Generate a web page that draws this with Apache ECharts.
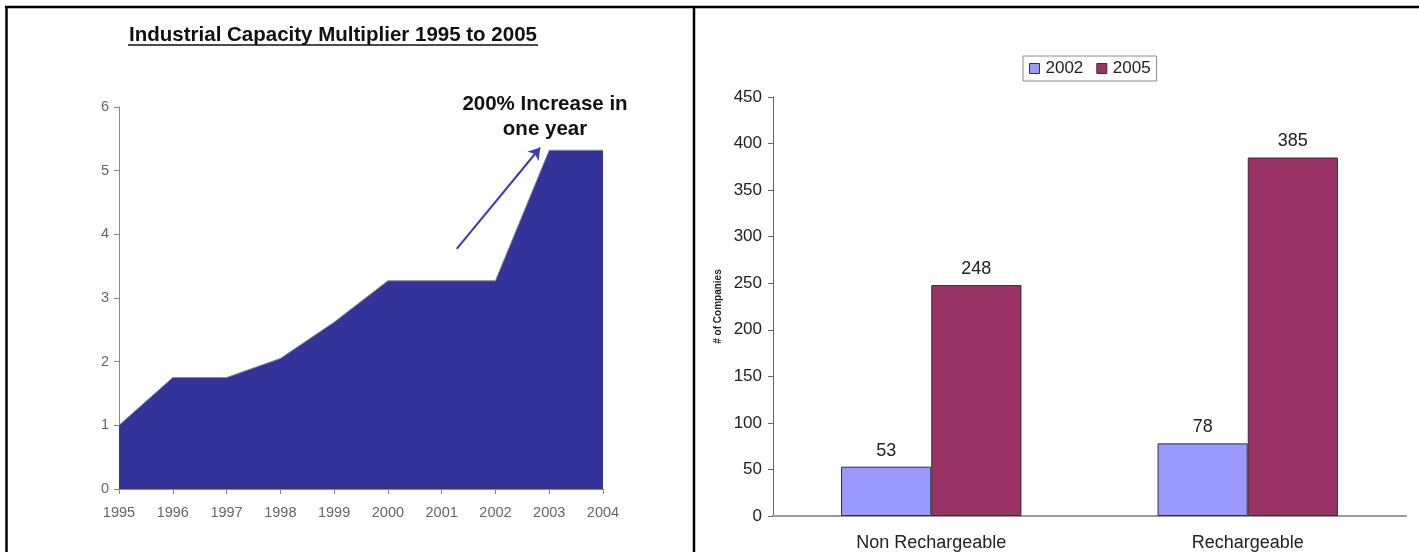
<!DOCTYPE html>
<html>
<head>
<meta charset="utf-8">
<script src="https://cdn.jsdelivr.net/npm/echarts@6/dist/echarts.min.js"></script>
<style>
  html, body { margin: 0; padding: 0; background: #fff; }
  #main { width: 1419px; height: 552px; }
</style>
</head>
<body>
<div id="main"></div>
<script>
// left chart data
var years = ['1995', '1996', '1997', '1998', '1999', '2000', '2001', '2002', '2003', '2004'];
var multiplier = [1.0, 1.75, 1.75, 2.05, 2.62, 3.27, 3.27, 3.27, 5.32, 5.32];
// arrow annotation, in (year index, multiplier) units
var arrowFrom = [6.28, 3.77];
var arrowTo = [7.83, 5.36];

// right chart data
var batteryTypes = ['Non Rechargeable', 'Rechargeable'];
var companies2002 = [53, 78];
var companies2005 = [248, 385];

var chart = echarts.init(document.getElementById('main'));
var font = 'Arial, "Liberation Sans", sans-serif';

chart.setOption({
  animation: false,
  backgroundColor: '#fff',
  grid: [
    { left: 119, right: 816, top: 107, bottom: 63 },
    { left: 773, right: 13, top: 97, bottom: 36 }
  ],
  legend: {
    data: ['2002', '2005'],
    left: 1023,
    top: 56,
    itemWidth: 10,
    itemHeight: 10,
    itemGap: 13,
    icon: 'rect',
    padding: [4, 6, 4, 6],
    borderColor: '#888',
    borderWidth: 1,
    textStyle: { fontFamily: font, fontSize: 17, color: '#222', padding: [0, 0, 0, 1] },
    itemStyle: { borderColor: '#333', borderWidth: 1 }
  },
  xAxis: [{
    gridIndex: 0,
    type: 'category',
    data: years,
    boundaryGap: false,
    axisLine: { lineStyle: { color: '#888' } },
    axisTick: { length: 5, lineStyle: { color: '#888' } },
    axisLabel: { fontFamily: font, fontSize: 14.5, color: '#666', margin: 16 }
  }, {
    gridIndex: 1,
    type: 'category',
    data: batteryTypes,
    axisLine: { lineStyle: { color: '#999', width: 2 } },
    axisTick: { length: 6, lineStyle: { color: '#444' } },
    axisLabel: { fontFamily: font, fontSize: 18, color: '#222', margin: 18 }
  }, {
    // hidden linear axis for placing the arrow between years
    gridIndex: 0,
    type: 'value',
    min: 0, max: years.length - 1,
    show: false
  }],
  yAxis: [{
    gridIndex: 0,
    type: 'value',
    min: 0, max: 6, interval: 1,
    axisLine: { show: true, lineStyle: { color: '#888' } },
    axisTick: { show: true, length: 5, lineStyle: { color: '#888' } },
    splitLine: { show: false },
    axisLabel: { fontFamily: font, fontSize: 14.5, color: '#666', margin: 10 }
  }, {
    gridIndex: 1,
    type: 'value',
    min: 0, max: 450, interval: 50,
    name: '# of Companies',
    nameLocation: 'middle',
    nameRotate: 90,
    nameGap: 50,
    nameTextStyle: { fontFamily: font, fontSize: 10, fontWeight: 'bold', color: '#222' },
    axisLine: { show: true, lineStyle: { color: '#666' } },
    axisTick: { show: true, length: 5, lineStyle: { color: '#666' } },
    splitLine: { show: false },
    axisLabel: { fontFamily: font, fontSize: 17, color: '#222', margin: 11 }
  }],
  series: [{
    name: 'Multiplier',
    type: 'line',
    xAxisIndex: 0,
    yAxisIndex: 0,
    data: multiplier,
    symbol: 'none',
    lineStyle: { color: '#888', width: 1 },
    areaStyle: { color: '#333399', opacity: 1 }
  }, {
    name: 'arrow',
    type: 'line',
    xAxisIndex: 2,
    yAxisIndex: 0,
    data: [],
    markLine: {
      silent: true,
      symbol: ['none', 'arrow'],
      symbolSize: 11,
      label: { show: false },
      lineStyle: { color: '#3b3bb0', width: 2, type: 'solid' },
      data: [[{ coord: arrowFrom }, { coord: arrowTo }]]
    }
  }, {
    name: '2002',
    type: 'bar',
    xAxisIndex: 1,
    yAxisIndex: 1,
    data: companies2002,
    barGap: '0%',
    barCategoryGap: '43%',
    itemStyle: { color: '#9999ff', borderColor: '#333', borderWidth: 1 },
    label: { show: true, position: 'top', distance: 7, fontFamily: font, fontSize: 18, color: '#222' }
  }, {
    name: '2005',
    type: 'bar',
    xAxisIndex: 1,
    yAxisIndex: 1,
    data: companies2005,
    barGap: '0%',
    barCategoryGap: '43%',
    itemStyle: { color: '#993366', borderColor: '#333', borderWidth: 1 },
    label: { show: true, position: 'top', distance: 7, fontFamily: font, fontSize: 18, color: '#222' }
  }],
  graphic: [
    // panel frame
    { type: 'line', shape: { x1: 5, y1: 7, x2: 1419, y2: 7 }, style: { stroke: '#000', lineWidth: 2.5 } },
    { type: 'line', shape: { x1: 6.5, y1: 6, x2: 6.5, y2: 552 }, style: { stroke: '#000', lineWidth: 2.5 } },
    { type: 'line', shape: { x1: 694, y1: 6, x2: 694, y2: 552 }, style: { stroke: '#000', lineWidth: 2.5 } },
    // left title with underline
    {
      type: 'text', x: 333, y: 35,
      style: { text: 'Industrial Capacity Multiplier 1995 to 2005', fill: '#111', font: 'bold 20.5px ' + font, align: 'center', verticalAlign: 'middle' }
    },
    { type: 'line', shape: { x1: 128, y1: 45, x2: 538, y2: 45 }, style: { stroke: '#111', lineWidth: 1.4 } },
    // annotation
    {
      type: 'text', x: 545, y: 117,
      style: { text: '200% Increase in\none year', fill: '#111', font: 'bold 20.5px ' + font, align: 'center', verticalAlign: 'middle', lineHeight: 25 }
    }
  ]
});
</script>
</body>
</html>
